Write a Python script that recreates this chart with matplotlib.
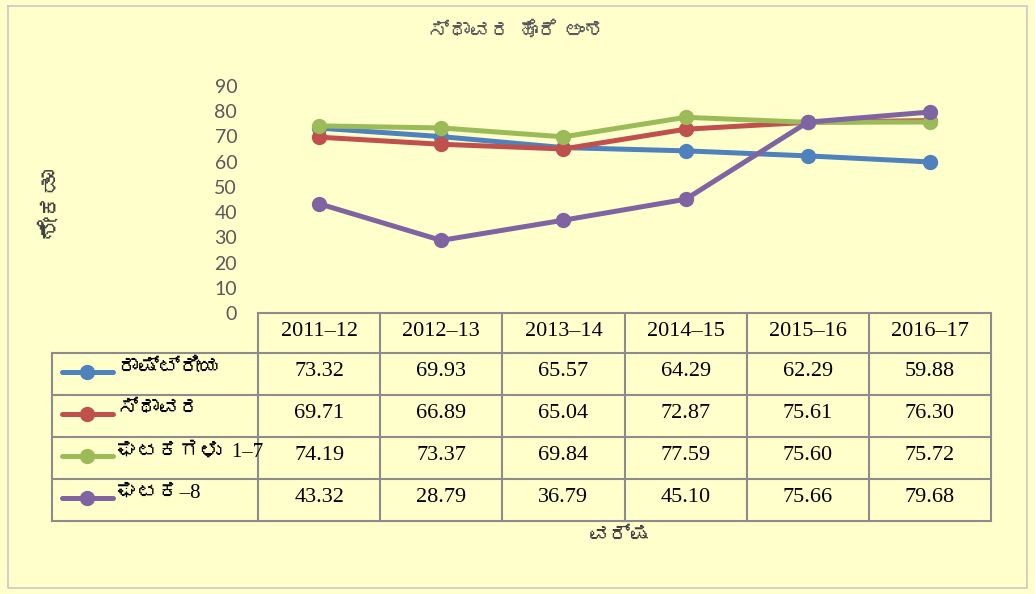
import matplotlib
matplotlib.use("Agg")
import matplotlib.pyplot as plt
from matplotlib import font_manager, ft2font

# ---------------- data ----------------
years = ["2011–12", "2012–13", "2013–14", "2014–15", "2015–16", "2016–17"]
series_names = ["ರಾಷ್ಟ್ರೀಯ", "ಸ್ಥಾವರ", "ಘಟಕಗಳು  1–7", "ಘಟಕ–8"]
national = [73.32, 69.93, 65.57, 64.29, 62.29, 59.88]
plant = [69.71, 66.89, 65.04, 72.87, 75.61, 76.30]
units_1_7 = [74.19, 73.37, 69.84, 77.59, 75.60, 75.72]
unit_8 = [43.32, 28.79, 36.79, 45.10, 75.66, 79.68]
series_values = [national, plant, units_1_7, unit_8]
yticks = [0, 10, 20, 30, 40, 50, 60, 70, 80, 90]
title = "ಸ್ಥಾವರ ಹೊರೆ ಅಂಶ"
ylabel = "ಶೇಕಡಾ"
xlabel = "ವರ್ಷ"

colors = ["#4F81BD", "#C0504D", "#9BBB59", "#8064A2"]

# ---------------- fonts ----------------
kn_font = None
for f in font_manager.fontManager.ttflist:
    try:
        ft = ft2font.FT2Font(f.fname)
        if 0x0C95 in ft.get_charmap():
            kn_font = f.name
            break
    except Exception:
        pass
kn_extra = [kn_font] if kn_font else []
kn_serif = ["Liberation Serif"] + kn_extra + ["DejaVu Sans"]
kn_sans = ["Lato"] + kn_extra + ["DejaVu Sans"]

W, H = 1035, 594
bg = "#FFFFCC"
fig = plt.figure(figsize=(W / 100, H / 100), dpi=100, facecolor=bg)

def fx(x):
    return x / W

def fy(y):
    return 1 - y / H

# overlay in pixel coords
ov = fig.add_axes([0, 0, 1, 1], facecolor="none")
ov.set_xlim(0, W)
ov.set_ylim(H, 0)
ov.axis("off")

# outer border
ov.plot([8, 1027, 1027, 8, 8], [6, 6, 588, 588, 6], color="#C8C8C8", lw=1.2)

# plot axes
L, R, T, B = 258, 991, 86, 313
ax = fig.add_axes([fx(L), fy(B), fx(R - L), (B - T) / H], facecolor="none")
n = len(years)
ax.set_xlim(-0.5, n - 0.5)
ax.set_ylim(0, 90)
for vals, c in zip(series_values, colors):
    ax.plot(range(n), vals, color=c, lw=3.6, marker="o", markersize=10,
            solid_capstyle="round", zorder=3)
for s in ax.spines.values():
    s.set_visible(False)
ax.set_xticks([])
ax.set_yticks(yticks)
ax.set_yticklabels([str(v) for v in yticks], fontfamily="Lato", fontsize=14,
                   color="#595959")
ax.tick_params(axis="y", length=0, pad=15)

# table
gc = "#8C8C8C"
colw = (R - L) / n
tL = 52
rows_y = [313, 353, 395, 437, 479, 521]
ov.plot([L, R], [rows_y[0], rows_y[0]], color=gc, lw=1.5)
for y in rows_y[1:]:
    ov.plot([tL, R], [y, y], color=gc, lw=1.5)
ov.plot([tL, tL], [rows_y[1], rows_y[-1]], color=gc, lw=1.5)
for i in range(n + 1):
    x = L + i * colw
    ov.plot([x, x], [rows_y[0], rows_y[-1]], color=gc, lw=1.5)

# header
for i, yr in enumerate(years):
    ov.text(L + (i + 0.5) * colw, (rows_y[0] + rows_y[1]) / 2 - 2, yr,
            ha="center", va="center", fontfamily="Liberation Serif",
            fontsize=16, color="black")

# rows
for r, (name, vals, c) in enumerate(zip(series_names, series_values, colors)):
    yc = (rows_y[r + 1] + rows_y[r + 2]) / 2 - 3
    ov.plot([62, 113], [yc + 1, yc + 1], color=c, lw=3.6, solid_capstyle="round")
    ov.plot([87], [yc + 1], marker="o", color=c, markersize=10)
    ov.text(117, yc - 3, name, ha="left", va="center", fontfamily=kn_serif,
            fontsize=15, color="black")
    for i, v in enumerate(vals):
        ov.text(L + (i + 0.5) * colw, yc, f"{v:.2f}", ha="center",
                va="center", fontfamily="Liberation Serif", fontsize=16,
                color="black")

# titles
ov.text(517, 31, title, ha="center", va="center", fontfamily=kn_sans,
        fontsize=15, color="#595959")
ov.text(620, 535, xlabel, ha="center", va="center", fontfamily=kn_sans,
        fontsize=15, color="#404040", fontweight="bold")
ov.text(50, 203, ylabel, ha="center", va="center", rotation=90,
        fontfamily=kn_sans, fontsize=17, color="#404040", fontweight="bold")

fig.savefig("out.png", dpi=100, facecolor=bg)
